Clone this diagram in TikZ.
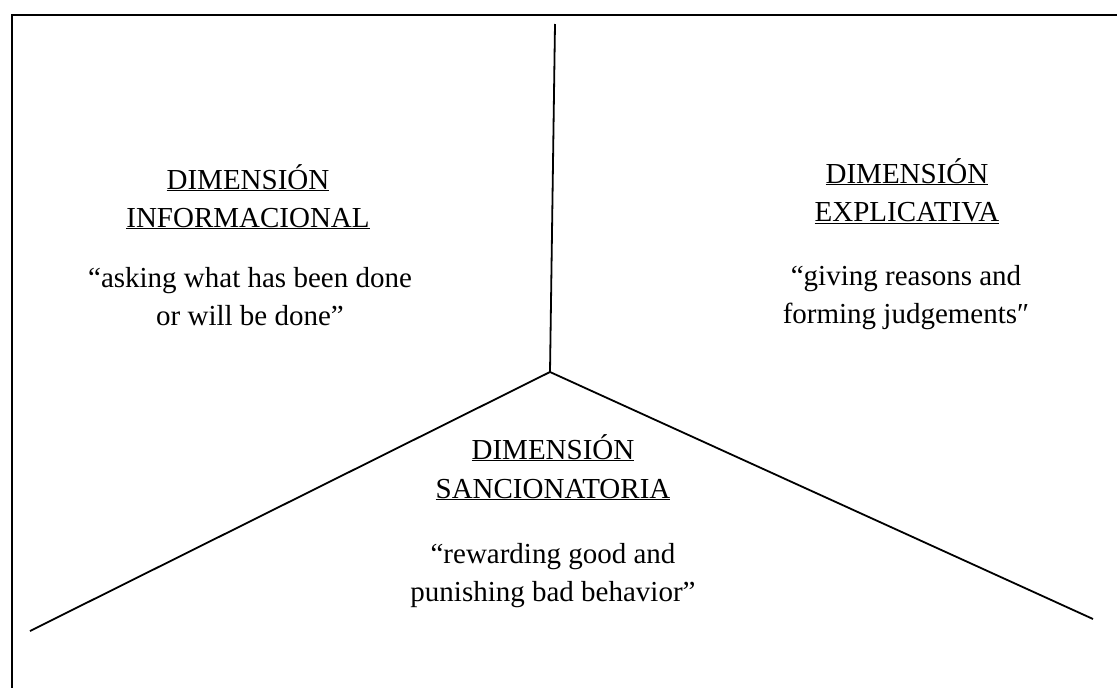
\documentclass[tikz,border=0pt]{standalone}
\usepackage{fontspec}
\setmainfont{Liberation Serif}
\begin{document}
\begin{tikzpicture}[x=1pt,y=-1pt,
  txt/.style={anchor=base, inner sep=0pt, font=\fontsize{29}{38}\selectfont},
  frame/.style={line width=2pt},
  divider/.style={line width=1.8pt}]
\useasboundingbox (0,0) rectangle (1117,688);
\draw[frame] (12,688) -- (12,15) -- (1117,15);
\coordinate (c) at (550,372);
\coordinate (top) at (555,24);
\coordinate (l) at (30,631);
\coordinate (r) at (1093,619);
\draw[divider] (top) -- (c);
\draw[divider] (l) -- (c) -- (r);
% left
\node[txt] (lt1) at (248,189) {\underline{DIMENSIÓN}};
\node[txt] (lt2) at (248,227) {\underline{INFORMACIONAL}};
\node[txt] (lq1) at (250,287) {“asking what has been done};
\node[txt] (lq2) at (250,325) {or will be done”};
% right
\node[txt] (rt1) at (907,183) {\underline{DIMENSIÓN}};
\node[txt] (rt2) at (907,221) {\underline{EXPLICATIVA}};
\node[txt] (rq1) at (906,285) {“giving reasons and};
\node[txt] (rq2) at (906,323) {forming judgements″};
% bottom
\node[txt] (bt1) at (553,459) {\underline{DIMENSIÓN}};
\node[txt] (bt2) at (553,498) {\underline{SANCIONATORIA}};
\node[txt] (bq1) at (553,563) {“rewarding good and};
\node[txt] (bq2) at (553,601) {punishing bad behavior”};
\end{tikzpicture}
\end{document}
